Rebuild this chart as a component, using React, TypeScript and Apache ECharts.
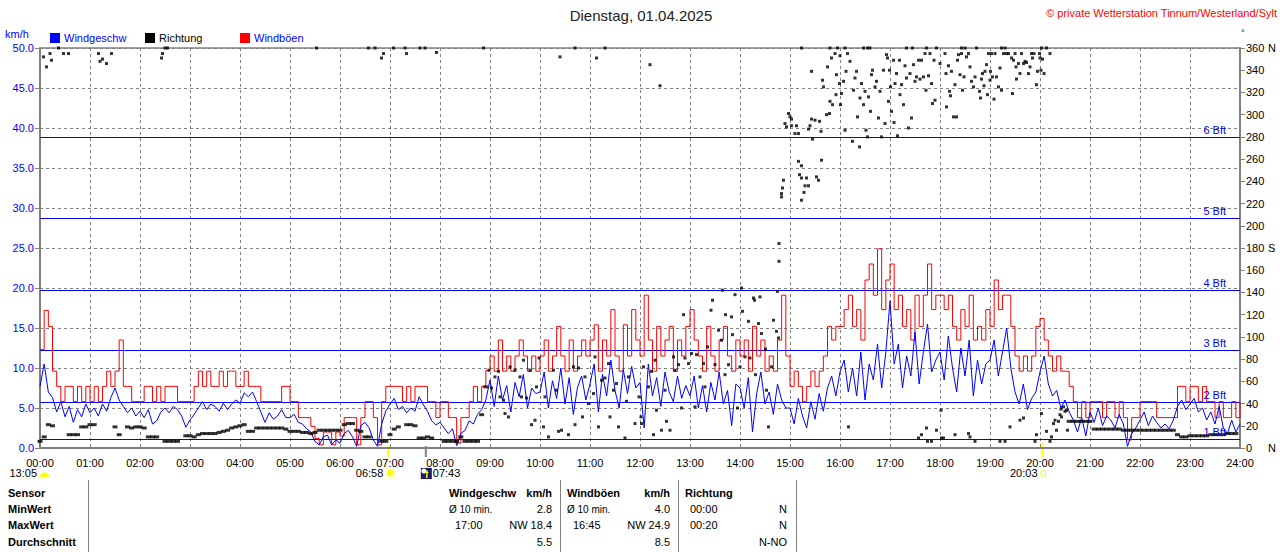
import React, { useEffect, useRef } from "react";
import * as echarts from "echarts";

const TITLE = "Dienstag, 01.04.2025";
const COPYRIGHT = "© private Wetterstation Tinnum/Westerland/Sylt";
const STEP_MIN = 5;

const hourLabels = [
  "00:00", "01:00", "02:00", "03:00", "04:00", "05:00", "06:00", "07:00", "08:00",
  "09:00", "10:00", "11:00", "12:00", "13:00", "14:00", "15:00", "16:00", "17:00",
  "18:00", "19:00", "20:00", "21:00", "22:00", "23:00", "24:00",
];

// Windgeschwindigkeit km/h, 5-minute values from 00:00
const windSpeed = [
  7.7, 10.5, 7.0, 6.3, 4.5, 5.8, 3.9, 5.2, 3.2, 4.8, 3.9, 5.5,
  4.4, 5.0, 4.0, 5.5, 4.6, 6.3, 7.5, 6.0, 5.2, 4.4, 5.0, 4.0,
  4.6, 3.8, 4.8, 3.0, 3.4, 4.5, 5.0, 4.4, 5.2, 4.8, 4.0, 2.6,
  3.5, 4.2, 5.0, 5.8, 4.8, 5.5, 5.2, 4.6, 5.6, 4.8, 5.5, 6.0,
  5.6, 6.9, 6.4, 7.0, 5.8, 4.5, 3.2, 4.4, 3.6, 4.0, 4.8, 3.8,
  3.8, 4.2, 3.2, 3.0, 2.4, 2.0, 0.8, 0.4, 1.4, 1.6, 0.4, 1.0,
  0.6, 1.8, 2.2, 1.4, 0.2, 2.8, 3.2, 2.5, 1.0, 0.2, 3.0, 4.6,
  5.5, 6.2, 4.8, 5.2, 4.4, 5.0, 4.6, 6.4, 5.4, 4.6, 3.4, 2.9,
  3.2, 2.5, 1.8, 2.4, 0.3, 1.8, 2.2, 3.4, 3.0, 4.2, 4.8, 6.0,
  8.5, 5.2, 9.0, 6.0, 7.8, 4.5, 8.2, 6.4, 9.2, 5.0, 7.5, 6.8,
  7.0, 9.5, 5.0, 8.4, 6.2, 10.0, 5.5, 8.8, 4.2, 7.6, 9.0, 6.0,
  8.0, 10.5, 4.5, 9.2, 6.5, 11.0, 7.2, 5.0, 9.8, 6.8, 10.2, 7.5,
  8.2, 2.5, 10.5, 6.5, 8.8, 5.2, 9.5, 7.0, 5.8, 9.0, 6.2, 7.8,
  6.5, 9.0, 5.0, 7.8, 4.5, 8.2, 6.0, 9.5, 5.5, 7.2, 2.8, 8.0,
  7.5, 5.0, 8.8, 2.0, 6.8, 9.5, 5.5, 7.0, 4.2, 8.0, 6.0, 5.0,
  5.0, 3.0, 6.2, 4.0, 2.5, 5.8, 3.6, 6.8, 4.6, 7.5, 9.0, 6.5,
  9.5, 11.0, 7.0, 10.0, 6.5, 12.0, 6.0, 10.5, 8.5, 13.0, 7.5, 12.0,
  18.4, 10.5, 13.0, 7.5, 11.5, 9.0, 14.5, 8.0, 12.0, 15.5, 9.5, 11.0,
  12.0, 8.5, 14.0, 10.0, 7.0, 12.5, 9.0, 13.5, 6.5, 11.0, 8.0, 10.5,
  11.0, 13.5, 9.0, 12.0, 15.0, 10.0, 7.0, 5.5, 8.0, 4.8, 6.2, 7.0,
  9.5, 11.5, 8.0, 6.5, 7.2, 5.0, 6.0, 4.5, 3.5, 2.0, 3.8, 1.5,
  4.5, 3.2, 5.0, 2.8, 4.0, 3.5, 2.5, 4.2, 3.0, 0.2, 1.8, 2.5,
  3.5, 4.5, 2.8, 4.0, 3.2, 2.5, 3.0, 2.4, 3.5, 5.2, 6.0, 4.8,
  5.5, 6.2, 4.5, 5.0, 3.5, 4.5, 3.0, 5.2, 2.5, 1.8, 3.5, 2.0,
  3.0,
];

// Windböen km/h, 5-minute values from 00:00
const windGust = [
  12.3, 17.2, 15.2, 9.6, 7.7, 5.8, 7.7, 7.7, 5.8, 7.7, 5.8, 7.7,
  5.8, 7.7, 5.8, 7.7, 9.6, 7.7, 9.6, 13.5, 7.7, 7.7, 5.8, 5.8,
  5.8, 7.7, 7.7, 5.8, 7.7, 5.8, 7.7, 7.7, 7.7, 5.8, 5.8, 5.8,
  5.8, 7.7, 9.6, 7.7, 9.6, 7.7, 7.7, 9.6, 7.7, 9.6, 9.6, 7.7,
  7.7, 9.6, 7.7, 7.7, 7.7, 5.8, 5.8, 5.8, 5.8, 5.8, 7.7, 7.7,
  5.8, 5.8, 3.8, 3.8, 3.8, 2.7, 1.2, 0.4, 2.0, 2.0, 0.4, 2.0,
  1.5, 3.8, 3.8, 3.8, 0.4, 3.8, 5.8, 5.8, 3.8, 0.4, 5.8, 7.7,
  7.7, 7.7, 7.7, 5.8, 7.7, 5.8, 7.7, 7.7, 7.7, 5.8, 5.8, 3.8,
  5.8, 5.8, 3.8, 3.8, 0.6, 3.8, 3.8, 5.8, 7.7, 5.8, 7.7, 9.7,
  11.5, 9.6, 13.5, 9.6, 11.5, 9.6, 11.5, 13.5, 11.5, 9.6, 11.5, 9.6,
  11.5, 13.5, 9.6, 11.5, 15.2, 11.5, 9.6, 13.5, 9.6, 11.5, 13.5, 11.5,
  13.5, 15.4, 9.6, 13.5, 11.5, 17.3, 11.5, 9.6, 15.4, 11.5, 17.3, 13.5,
  11.5, 19.1, 13.5, 9.6, 15.2, 11.5, 13.5, 15.2, 9.6, 13.5, 11.5, 15.2,
  17.3, 13.5, 11.5, 9.6, 15.2, 11.5, 9.6, 13.5, 15.2, 11.5, 9.6, 13.5,
  11.5, 13.5, 9.6, 15.2, 11.5, 13.5, 9.6, 11.5, 9.6, 13.5, 19.1, 11.5,
  7.7, 9.6, 7.7, 5.8, 7.7, 9.6, 7.7, 9.6, 11.5, 15.2, 13.5, 15.2,
  15.2, 17.3, 19.1, 15.2, 17.3, 13.5, 21.0, 23.0, 19.1, 24.9, 17.3, 21.0,
  23.0, 17.3, 19.1, 15.2, 17.3, 13.5, 19.1, 15.2, 19.1, 23.0, 17.3, 19.1,
  19.1, 17.3, 19.1, 15.2, 13.5, 17.3, 15.2, 19.1, 13.5, 15.2, 13.5, 17.3,
  15.2, 21.0, 17.3, 19.1, 19.1, 15.2, 11.5, 9.6, 11.5, 9.6, 11.5, 15.2,
  16.2, 13.5, 11.5, 9.6, 11.5, 9.6, 9.6, 7.7, 5.8, 3.8, 5.8, 3.8,
  5.8, 5.8, 5.8, 3.8, 5.8, 5.8, 3.8, 5.8, 3.8, 1.0, 3.8, 3.8,
  5.8, 5.8, 5.8, 5.8, 3.8, 3.8, 3.8, 3.8, 3.8, 7.7, 7.7, 5.8,
  7.7, 7.7, 5.8, 7.7, 5.8, 5.8, 3.8, 5.8, 3.8, 3.8, 5.8, 3.8,
  5.8,
];

// Richtung (degrees), steady 5-minute values 00:00 - 08:55
const dirEarly = [
  6, 10, 21, 20, null, null, null, 12, 12, 12, 19, 19,
  21, 21, null, null, null, null, 19, 12, null, 19, 18, 19,
  19, 18, 10, 10, 10, null, 6, 6, 6, 6, null, 11,
  11, 10, 12, 13, 13, 13, 13, 14, 15, 16, 18, 19,
  20, 21, 15, 15, 18, 18, 18, 18, 18, 18, 18, 17,
  15, 15, 15, 14, 14, 13, 14, 16, 16, 16, 16, 16,
  16, 21, 22, 22, 16, 15, 10, 10, null, null, 6, 6,
  12, 17, 19, null, 21, 21, 20, 9, 9, 10, 9, null,
  null, 6, 6, 6, 6, 10, 6, 6, 6, 6, 30, 55,
];
// Richtung (degrees), steady 5-minute values from 20:35
const DIR_LATE_START_H = 20 + 35 / 60;
const dirLate = [
  24, 24, 24, 24, 24, 24, 17, 17, 17, 17, 17, 17,
  17, 16, 16, 16, 16, 16, 16, 16, 16, 16, 16, 16,
  16, 16, 12, 10, 10, 11, 11, 11, 11, 11, 12, 12,
  12, 12, 13, 13, 13,
];

// Richtung single readings [hour, degrees]
const dirDotsNight = [
  [0.07, 352], [0.13, 343], [0.2, 355], [0.23, 349], [0.37, 360], [0.47, 355], [0.57, 355],
  [1.17, 355], [1.2, 348], [1.25, 350], [1.33, 346], [1.43, 355], [2.43, 351], [2.45, 355],
  [2.5, 360], [2.55, 360], [5.53, 360], [6.57, 360], [6.7, 360], [6.83, 351], [6.87, 355],
  [7.07, 360], [7.3, 360], [7.33, 355], [7.6, 360], [7.7, 360], [7.93, 356], [8.87, 360],
  [10.4, 352], [10.7, 360], [11.13, 351], [11.3, 360], [12.2, 345], [12.4, 326],
];
const dirDotsDay = [
  [8.98, 70], [9.03, 54], [9.1, 64], [9.17, 69], [9.2, 46], [9.27, 43], [9.3, 31], [9.37, 28],
  [9.4, 73], [9.5, 70], [9.6, 64], [9.63, 46], [9.67, 79], [9.73, 45], [9.8, 70], [9.83, 21],
  [9.9, 25], [9.93, 55], [9.98, 81], [10.07, 19], [10.1, 46], [10.17, 10], [10.27, 70], [10.33, 52],
  [10.37, 15], [10.43, 16], [10.57, 12], [10.67, 73], [10.7, 21], [10.77, 72], [10.85, 28], [10.9, 64],
  [10.97, 40], [11.07, 49], [11.1, 82], [11.17, 19], [11.23, 61], [11.3, 63], [11.37, 76], [11.4, 28],
  [11.47, 52], [11.53, 58], [11.57, 19], [11.7, 9], [11.73, 42], [11.77, 64], [11.9, 22], [11.98, 46],
  [12.02, 28], [12.07, 73], [12.03, 22], [12.17, 55], [12.23, 69], [12.27, 12], [12.3, 79], [12.33, 34],
  [12.43, 16], [12.5, 52], [12.53, 24], [12.6, 16], [12.67, 82], [12.7, 70], [12.77, 75], [12.83, 36],
  [12.87, 120], [12.9, 81], [12.97, 76], [13.03, 85], [13.1, 37], [13.13, 84], [13.2, 64], [13.27, 76],
  [13.3, 55], [13.35, 91], [13.42, 124], [13.45, 133], [13.5, 75], [13.57, 106], [13.63, 97], [13.65, 142],
  [13.7, 66], [13.71, 120], [13.77, 75], [13.83, 118], [13.85, 102], [13.9, 138], [13.95, 36], [14.0, 73],
  [14.03, 144], [14.05, 123], [14.1, 82], [14.17, 114], [14.2, 81], [14.27, 135], [14.29, 133], [14.31, 66],
  [14.37, 112], [14.4, 136], [14.43, 103], [14.51, 89], [14.53, 52], [14.57, 19], [14.63, 73], [14.67, 115],
  [14.73, 105], [14.75, 141], [14.77, 99],
];
const dirDotsAfternoon = [
  [14.78, 184], [14.78, 168], [14.83, 229], [14.83, 226], [14.85, 234], [14.87, 241], [15.17, 258],
  [15.23, 254], [15.19, 246], [15.23, 243], [15.33, 243], [15.3, 236], [15.37, 236], [15.28, 230],
  [15.23, 223], [15.53, 244], [15.57, 241], [15.63, 259],
  [14.9, 292], [14.97, 301], [15.0, 298], [15.03, 296], [14.93, 289], [15.03, 290], [15.1, 283],
  [15.13, 290], [15.17, 283], [15.4, 290], [15.37, 287], [15.43, 296], [15.5, 295], [15.45, 278],
  [15.59, 294], [15.62, 285], [15.65, 331], [15.67, 325], [15.43, 339], [15.73, 300], [15.75, 343],
  [15.79, 301], [15.8, 312], [15.83, 351], [15.85, 309], [15.9, 355], [15.92, 318], [15.93, 336],
  [15.99, 328], [16.0, 353], [16.01, 309],
  [16.03, 319], [16.07, 330], [16.1, 286], [16.12, 339], [16.15, 355], [16.2, 348], [16.25, 276],
  [16.27, 322], [16.3, 333], [16.33, 339], [16.35, 298], [16.39, 271], [16.4, 315], [16.43, 328],
  [16.47, 309], [16.5, 321], [16.52, 286], [16.55, 280], [16.57, 316], [16.61, 303], [16.63, 336],
  [16.65, 340], [16.7, 325], [16.73, 330], [16.77, 297], [16.8, 321], [16.83, 280], [16.87, 340],
  [16.9, 292], [16.93, 354], [16.95, 351], [16.97, 312], [16.99, 340],
  [17.01, 325], [17.03, 303], [17.07, 349], [17.08, 293], [17.1, 328], [17.13, 337], [17.15, 281],
  [17.19, 349], [17.2, 318], [17.23, 327], [17.27, 309], [17.3, 344], [17.33, 333], [17.37, 288],
  [17.4, 337], [17.43, 297], [17.47, 345], [17.5, 330], [17.53, 334], [17.57, 349], [17.6, 332],
  [17.63, 349], [17.67, 334], [17.7, 355], [17.72, 322], [17.77, 335], [17.8, 355], [17.83, 328],
  [17.85, 310], [17.88, 349], [17.9, 313],
  [18.0, 346], [18.1, 355], [18.12, 337], [18.13, 307], [18.17, 344], [18.19, 321], [18.21, 317],
  [18.23, 339], [18.27, 298], [18.3, 327], [18.33, 298], [18.35, 349], [18.37, 354], [18.4, 336],
  [18.43, 355], [18.45, 322], [18.48, 334], [18.53, 352], [18.57, 355], [18.6, 343], [18.63, 330],
  [18.67, 325], [18.7, 334], [18.73, 360], [18.79, 321], [18.81, 315], [18.83, 332], [18.85, 337],
  [18.88, 326], [18.9, 339], [18.93, 345], [18.95, 318], [18.97, 355],
  [19.0, 331], [19.01, 339], [19.03, 355], [19.05, 334], [19.08, 314], [19.1, 355], [19.13, 334],
  [19.17, 325], [19.2, 342], [19.23, 322], [19.27, 355], [19.3, 360], [19.33, 355], [19.37, 355],
  [19.43, 351], [19.45, 319], [19.47, 349], [19.5, 355], [19.52, 343], [19.53, 332], [19.57, 346],
  [19.6, 337], [19.63, 355], [19.67, 346], [19.7, 348], [19.73, 347], [19.77, 337], [19.8, 343],
  [19.83, 355], [19.85, 351], [19.88, 355], [19.93, 327], [19.95, 339], [19.99, 355], [20.0, 351],
  [20.02, 340], [20.03, 360], [20.05, 350], [20.08, 337], [20.2, 355],
  [15.23, 360], [15.8, 360], [15.95, 360], [16.1, 360], [16.47, 360], [16.55, 360], [16.6, 360],
  [17.33, 360], [17.45, 360], [17.73, 360], [17.93, 360], [18.43, 360], [18.5, 360], [19.23, 360],
  [20.13, 360],
];
const dirDotsEvening = [
  [16.17, 19], [17.57, 9], [17.63, 12], [17.73, 18], [17.75, 6], [17.83, 6], [17.93, 16], [18.02, 34],
  [18.03, 9], [18.07, 9], [18.3, 12], [18.57, 13], [18.6, 10], [18.7, 6], [19.2, 6], [19.3, 6],
  [19.4, 19], [19.6, 25], [19.67, 27], [19.9, 6], [19.93, 12], [20.03, 31], [20.13, 15], [20.2, 6],
  [20.23, 10], [20.27, 22], [20.3, 25], [20.33, 16], [20.37, 24], [20.4, 30], [20.42, 35], [20.43, 28],
  [20.47, 37], [20.5, 33], [20.53, 34], [20.55, 16],
];

// Beaufort thresholds km/h (0.3, 1.6, 3.4, 5.5, 8.0, 10.8 m/s)
const bftLevels = [1.08, 5.76, 12.24, 19.8, 28.8, 38.88];
const bftLabels = ["1 Bft", "2 Bft", "3 Bft", "4 Bft", "5 Bft", "6 Bft"];

// Sun / moon events (hours)
const SUNRISE_H = 6 + 58 / 60;
const MOONRISE_H = 7 + 43 / 60;
const SUNSET_H = 20 + 3 / 60;

// Table
const tableRowLabels = ["Sensor", "MinWert", "MaxWert", "Durchschnitt"];
const windSpeedStats = { minNote: "Ø 10 min.", min: "2.8", maxTime: "17:00", max: "NW 18.4", avg: "5.5" };
const windGustStats = { minNote: "Ø 10 min.", min: "4.0", maxTime: "16:45", max: "NW 24.9", avg: "8.5" };
const directionStats = { minTime: "00:00", min: "N", maxTime: "00:20", max: "N", avg: "N-NO" };

const FONT = "'Liberation Sans', Arial, sans-serif";
const BLUE = "#0000ff";
const RED = "#ff0000";
const GRAY = "#808080";

function txt(x: number, y: number, text: string, opts: any = {}) {
  return {
    type: "text",
    x,
    y,
    silent: true,
    z: 10,
    style: {
      text,
      fill: opts.fill || "#000",
      font: `${opts.bold ? "bold " : ""}${opts.size || 11}px ${FONT}`,
      align: opts.align || "left",
      verticalAlign: "middle",
    },
  };
}

export default function App() {
  const ref = useRef<HTMLDivElement>(null);

  useEffect(() => {
    const chart = echarts.init(ref.current!, null, { renderer: "svg" });
    const toH = (i: number) => (i * STEP_MIN) / 60;
    const windData = windSpeed.map((v, i) => [toH(i), v]);
    const gustData = windGust.map((v, i) => [toH(i), v]);
    const steadyDir: number[][] = [];
    dirEarly.forEach((v, i) => {
      if (v != null) steadyDir.push([toH(i), v]);
    });
    dirLate.forEach((v, i) => {
      if (v != null) steadyDir.push([DIR_LATE_START_H + toH(i), v]);
    });
    const dots = [...dirDotsNight, ...dirDotsDay, ...dirDotsAfternoon, ...dirDotsEvening];

    const rightLabel = (v: number) => {
      if (v === 360 || v === 0) return `{v|${v}}{n|N}`;
      if (v === 180) return `{v|${v}}{n|S}`;
      return `${v}`;
    };

    chart.setOption({
      animation: false,
      textStyle: { fontFamily: FONT },
      grid: { left: 40, right: 40, top: 48, bottom: 104, containLabel: false },
      xAxis: {
        type: "value",
        min: 0,
        max: 24,
        interval: 1,
        axisLine: { show: true, lineStyle: { color: GRAY, width: 2 } },
        axisTick: { show: false },
        axisLabel: {
          color: "#000",
          fontSize: 11,
          margin: 9,
          showMinLabel: true,
          showMaxLabel: true,
          formatter: (v: number) => hourLabels[Math.round(v)],
        },
        splitLine: { show: true, lineStyle: { color: GRAY, width: 1, type: [3, 3] } },
      },
      yAxis: [
        {
          type: "value",
          position: "left",
          min: 0,
          max: 50,
          interval: 5,
          axisLine: { show: true, lineStyle: { color: GRAY, width: 2 } },
          axisTick: { show: true, length: 5, lineStyle: { color: GRAY } },
          axisLabel: { color: BLUE, fontSize: 11, margin: 6, formatter: (v: number) => v.toFixed(1) },
          splitLine: { show: true, lineStyle: { color: GRAY, width: 1, type: [3, 3] } },
        },
        {
          type: "value",
          position: "right",
          min: 0,
          max: 360,
          interval: 20,
          axisLine: { show: true, lineStyle: { color: GRAY, width: 2 } },
          axisTick: { show: true, length: 5, lineStyle: { color: GRAY } },
          axisLabel: {
            color: "#000",
            fontSize: 11,
            margin: 6,
            formatter: rightLabel,
            rich: { v: { width: 22, fontSize: 11, color: "#000" }, n: { fontSize: 11, color: "#000" } },
          },
          splitLine: { show: false },
        },
      ],
      series: [
        {
          name: "Windböen",
          type: "line",
          step: "end",
          data: gustData,
          showSymbol: false,
          z: 2,
          lineStyle: { color: RED, width: 1 },
          itemStyle: { color: RED },
        },
        {
          name: "Windgeschw",
          type: "line",
          data: windData,
          showSymbol: false,
          z: 3,
          lineStyle: { color: BLUE, width: 1 },
          itemStyle: { color: BLUE },
        },
        {
          name: "Richtung",
          type: "scatter",
          yAxisIndex: 1,
          data: steadyDir,
          symbol: "rect",
          symbolSize: [5, 3],
          z: 4,
          itemStyle: { color: "#000" },
        },
        {
          name: "Richtung ",
          type: "scatter",
          yAxisIndex: 1,
          data: dots,
          symbol: "rect",
          symbolSize: [3, 3],
          z: 4,
          itemStyle: { color: "#000" },
        },
      ],
    });

    const px = (h: number) => chart.convertToPixel({ xAxisIndex: 0 }, h) as number;
    const py = (v: number) => chart.convertToPixel({ yAxisIndex: 0 }, v) as number;
    const xStart = px(0);
    const xEnd = px(24);
    const sunX = px(SUNRISE_H);
    const moonX = px(MOONRISE_H);
    const setX = px(SUNSET_H);
    const rowY = [493, 509, 525, 542];

    const graphic: any[] = [
      txt(641, 15, TITLE, { size: 15, align: "center", fill: "#222" }),
      txt(1277, 13, COPYRIGHT, { fill: RED, align: "right" }),
      txt(5, 34, "km/h", { fill: BLUE }),
      { type: "rect", shape: { x: 50, y: 33, width: 10, height: 10 }, style: { fill: BLUE } },
      txt(64, 38, "Windgeschw", { fill: BLUE }),
      { type: "rect", shape: { x: 145, y: 33, width: 10, height: 10 }, style: { fill: "#000" } },
      txt(159, 38, "Richtung"),
      { type: "rect", shape: { x: 240, y: 33, width: 10, height: 10 }, style: { fill: RED } },
      txt(254, 38, "Windböen", { fill: BLUE }),
      txt(1241, 33, "°", { size: 9 }),
      { type: "line", shape: { x1: xStart, y1: 48, x2: xEnd, y2: 48 }, style: { stroke: GRAY, lineWidth: 1.5 } },
      // sun / moon markers
      txt(37, 473, "13:05", { align: "right" }),
      {
        type: "sector",
        shape: { cx: 44.5, cy: 477, r: 4.5, r0: 0, startAngle: Math.PI, endAngle: 2 * Math.PI, clockwise: true },
        style: { fill: "#ffff00" },
      },
      { type: "line", shape: { x1: sunX, y1: 446, x2: sunX, y2: 457 }, style: { stroke: "#ffff00", lineWidth: 2 } },
      txt(sunX - 5, 473, "06:58", { align: "right" }),
      { type: "circle", shape: { cx: sunX + 2, cy: 473, r: 5.5 }, style: { fill: "none", stroke: "#ffffa0", lineWidth: 1.5, lineDash: [1.5, 1.5] } },
      { type: "circle", shape: { cx: sunX + 2, cy: 473, r: 3.5 }, style: { fill: "#ffff00" } },
      { type: "line", shape: { x1: moonX, y1: 446, x2: moonX, y2: 457 }, style: { stroke: GRAY, lineWidth: 2 } },
      { type: "rect", shape: { x: moonX - 5, y: 468, width: 11, height: 11 }, style: { fill: "#1c1c70" } },
      { type: "circle", shape: { cx: moonX - 2, cy: 471, r: 2.5 }, style: { fill: "#ffffff" } },
      { type: "line", shape: { x1: moonX + 1, y1: 478, x2: moonX + 1, y2: 472 }, style: { stroke: "#ffff00", lineWidth: 1.5 } },
      { type: "polygon", shape: { points: [[moonX - 1, 473], [moonX + 3, 473], [moonX + 1, 470]] }, style: { fill: "#ffff00" } },
      txt(moonX + 7, 473, "07:43"),
      { type: "line", shape: { x1: setX, y1: 443, x2: setX, y2: 457 }, style: { stroke: "#ffff00", lineWidth: 2 } },
      txt(setX - 5, 473, "20:03", { align: "right" }),
      { type: "rect", shape: { x: setX - 1.5, y: 471, width: 4.5, height: 5 }, style: { fill: "none", stroke: "#ffff00", lineWidth: 1 } },
    ];

    // Beaufort lines, snapped to whole pixel rows
    bftLevels.forEach((v, i) => {
      const y = Math.round(py(v)) + 0.5;
      graphic.push({
        type: "line",
        silent: true,
        z: 1,
        shape: { x1: xStart, y1: y, x2: xEnd, y2: y },
        style: { stroke: BLUE, lineWidth: 1 },
      });
      graphic.push(txt(xEnd - 14, y - 8, bftLabels[i], { fill: BLUE, align: "right" }));
    });

    // table lines
    [88, 560, 678, 796].forEach((x) => {
      graphic.push({ type: "line", shape: { x1: x + 0.5, y1: 480, x2: x + 0.5, y2: 552 }, style: { stroke: GRAY, lineWidth: 1 } });
    });
    tableRowLabels.forEach((label, i) => graphic.push(txt(8, rowY[i], label, { bold: true })));
    graphic.push(txt(449, rowY[0], "Windgeschw", { bold: true }));
    graphic.push(txt(552, rowY[0], "km/h", { bold: true, align: "right" }));
    graphic.push(txt(567, rowY[0], "Windböen", { bold: true }));
    graphic.push(txt(670, rowY[0], "km/h", { bold: true, align: "right" }));
    graphic.push(txt(685, rowY[0], "Richtung", { bold: true }));

    graphic.push(txt(449, rowY[1], windSpeedStats.minNote, { size: 10 }));
    graphic.push(txt(552, rowY[1], windSpeedStats.min, { align: "right" }));
    graphic.push(txt(455, rowY[2], windSpeedStats.maxTime));
    graphic.push(txt(552, rowY[2], windSpeedStats.max, { align: "right" }));
    graphic.push(txt(552, rowY[3], windSpeedStats.avg, { align: "right" }));

    graphic.push(txt(567, rowY[1], windGustStats.minNote, { size: 10 }));
    graphic.push(txt(670, rowY[1], windGustStats.min, { align: "right" }));
    graphic.push(txt(573, rowY[2], windGustStats.maxTime));
    graphic.push(txt(670, rowY[2], windGustStats.max, { align: "right" }));
    graphic.push(txt(670, rowY[3], windGustStats.avg, { align: "right" }));

    graphic.push(txt(690, rowY[1], directionStats.minTime));
    graphic.push(txt(787, rowY[1], directionStats.min, { align: "right" }));
    graphic.push(txt(690, rowY[2], directionStats.maxTime));
    graphic.push(txt(787, rowY[2], directionStats.max, { align: "right" }));
    graphic.push(txt(787, rowY[3], directionStats.avg, { align: "right" }));

    chart.setOption({ graphic });

    return () => chart.dispose();
  }, []);

  return (
    <div
      ref={ref}
      style={{ position: "fixed", left: 0, top: 0, width: 1280, height: 552, background: "#fff" }}
    />
  );
}
